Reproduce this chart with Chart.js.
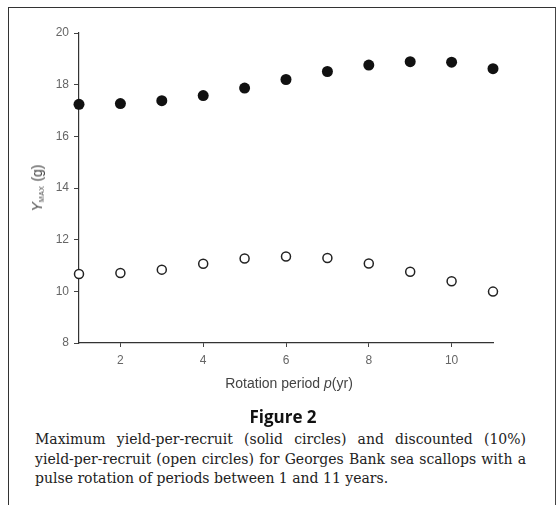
<!DOCTYPE html>
<html>
<head>
<meta charset="utf-8">
<script src="https://cdn.jsdelivr.net/npm/chart.js@4.4.0/dist/chart.umd.min.js"></script>
<style>
  body { margin: 0; background: #fff; }
  #wrap { position: relative; width: 560px; height: 505px; overflow: hidden; }
  #frame { position: absolute; left: 8px; top: 7px; width: 546px; height: 520px;
           border-left: 1.5px solid #333; border-top: 1.5px solid #333; border-right: 1.5px solid #444; }
  #chartBox { position: absolute; left: 0; top: 0; width: 560px; height: 400px; }
  .axisTitle { position: absolute; font-family: "Liberation Sans", Arial, sans-serif; font-size: 14px; color: #444; white-space: nowrap; }
  #ytitle { left: 37px; top: 188px; transform: translate(-50%, -50%) rotate(-90deg); }
  #ytitle sub { font-size: 7px; vertical-align: -2px; letter-spacing: 0.5px; }
  #xtitle { left: 289px; top: 383px; transform: translate(-50%, -50%); }
  #fig { position: absolute; left: 283px; top: 416px; transform: translate(-50%, -50%);
         font-family: "Open Sans", "DejaVu Sans", sans-serif; font-weight: bold; font-size: 17px; color: #111; }
  #caption { position: absolute; left: 35px; top: 430px; width: 491px;
             font-family: "DejaVu Serif", "Liberation Serif", serif; font-size: 14px; color: #222; line-height: 19.5px; }
  #caption div { text-align: justify; text-align-last: justify; white-space: nowrap; }
  #caption div.last { text-align-last: left; }
</style>
</head>
<body>
<div id="wrap">
  <div id="frame"></div>
  <div id="chartBox"><canvas id="scallopChart" width="560" height="400"></canvas></div>
  <div class="axisTitle" id="ytitle"><i>Y</i><sub>MAX</sub> (g)</div>
  <div class="axisTitle" id="xtitle">Rotation period <i>p</i>(yr)</div>
  <div id="fig">Figure 2</div>
  <div id="caption">
    <div>Maximum yield-per-recruit (solid circles) and discounted (10%)</div>
    <div>yield-per-recruit (open circles) for Georges Bank sea scallops with a</div>
    <div class="last">pulse rotation of periods between 1 and 11 years.</div>
  </div>
</div>
<script>
// data
var periods = [1, 2, 3, 4, 5, 6, 7, 8, 9, 10, 11];
var maxYield = [17.24, 17.27, 17.38, 17.58, 17.87, 18.20, 18.51, 18.76, 18.89, 18.87, 18.62];
var discountedYield = [10.67, 10.71, 10.84, 11.07, 11.27, 11.35, 11.29, 11.08, 10.76, 10.39, 9.99];
var xTicks = [2, 4, 6, 8, 10];
var yTicks = [8, 10, 12, 14, 16, 18, 20];

function toPoints(xs, ys) {
  return xs.map(function (x, i) { return { x: x, y: ys[i] }; });
}

var tickFont = { family: '"Liberation Sans", Arial, sans-serif', size: 12 };

var config = {
  type: 'scatter',
  data: {
    datasets: [{
      label: 'solid',
      data: toPoints(periods, maxYield),
      pointRadius: 5.5,
      pointBorderWidth: 0,
      backgroundColor: '#111',
      borderColor: '#111',
      clip: false
    }, {
      label: 'open',
      data: toPoints(periods, discountedYield),
      pointRadius: 4.5,
      pointBorderWidth: 1.5,
      backgroundColor: '#fff',
      borderColor: '#222',
      clip: false
    }]
  },
  options: {
    responsive: false,
    animation: false,
    events: [],
    layout: { padding: { left: 0, right: 67, top: 33, bottom: 0 } },
    plugins: { legend: { display: false }, tooltip: { enabled: false } },
    scales: {
      x: {
        type: 'linear',
        min: 1,
        max: 11,
        afterBuildTicks: function (scale) {
          scale.ticks = xTicks.map(function (v) { return { value: v }; });
        },
        afterFit: function (scale) { scale.height = 57; },
        grid: { drawOnChartArea: false, drawTicks: true, tickLength: 4, color: '#444' },
        border: { color: '#333', width: 1.2 },
        ticks: { font: tickFont, color: '#666', padding: 6, maxRotation: 0 }
      },
      y: {
        min: 8,
        max: 20,
        afterBuildTicks: function (scale) {
          scale.ticks = yTicks.map(function (v) { return { value: v }; });
        },
        afterFit: function (scale) { scale.width = 79; },
        grid: { drawOnChartArea: false, drawTicks: true, tickLength: 5, color: '#444' },
        border: { color: '#333', width: 1.2 },
        ticks: { font: tickFont, color: '#666', padding: 5 }
      }
    }
  }
};

var chart = new Chart(document.getElementById('scallopChart').getContext('2d'), config);
</script>
</body>
</html>
